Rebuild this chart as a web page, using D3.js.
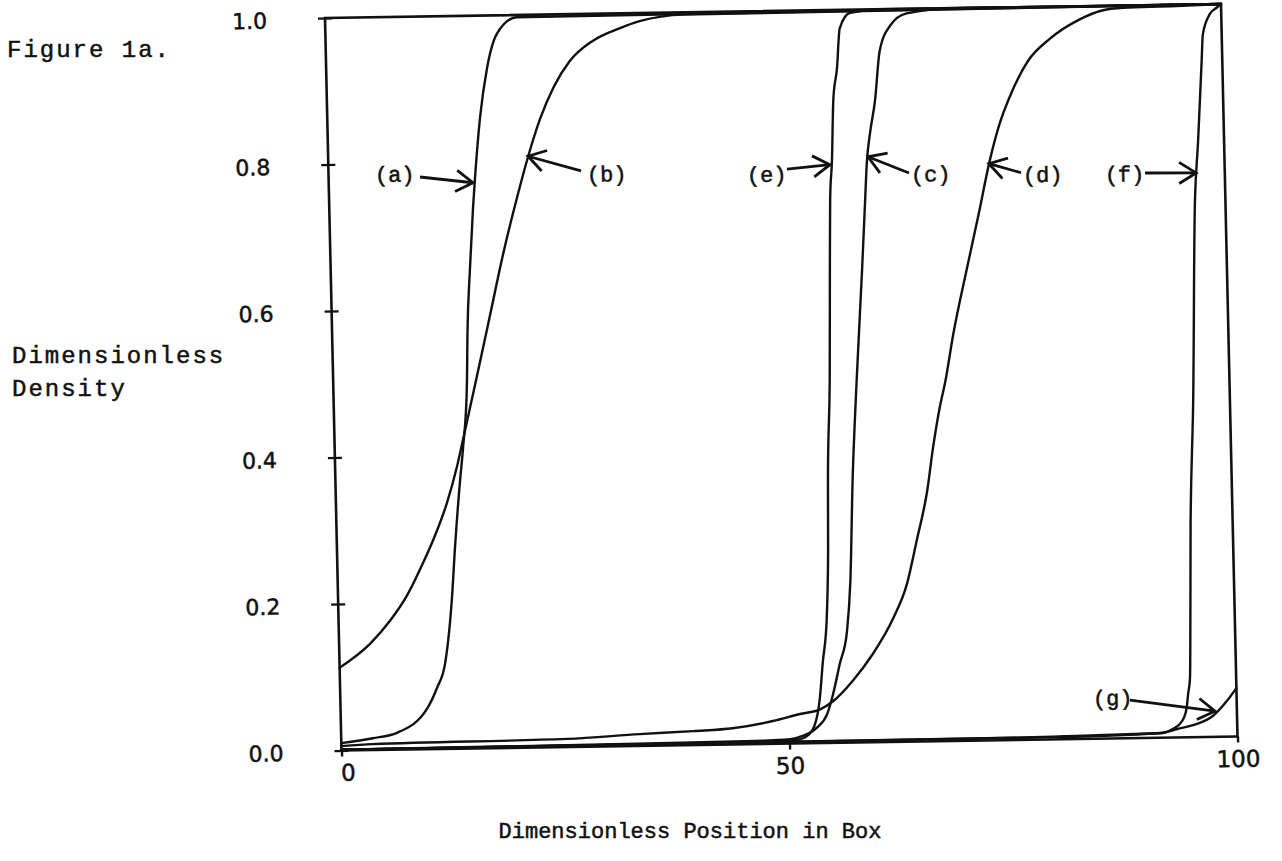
<!DOCTYPE html>
<html><head><meta charset="utf-8">
<script src="https://cdn.jsdelivr.net/npm/d3@7"></script>
<style>body{margin:0;background:#fff}svg{display:block}</style>
</head><body>
<svg id="chart" width="1282" height="861"></svg>
<script>
// ---- data ----
const xTicks = [0, 50, 100];
const yTicks = [0, 0.2, 0.4, 0.6, 0.8, 1.0];
const yTickLabels = ["0.0", "0.2", "0.4", "0.6", "0.8", "1.0"];
const xTickLabels = ["0", "50", "100"];

const curveA = [[0,0.010],[3.55,0.016],[6.24,0.023],[9.64,0.055],[10.8,0.083],[11.77,0.116],[12.71,0.206],[13.17,0.274],[13.9,0.365],[14.32,0.41],[14.93,0.502],[15.1,0.566],[15.55,0.656],[16.04,0.738],[16.33,0.778],[17.04,0.86],[17.95,0.928],[19.15,0.975],[21.4,0.997],[100,1.0]];
const curveB = [[0,0.113],[3.45,0.145],[5.74,0.176],[7.69,0.21],[9.2,0.245],[11.0,0.292],[12.4,0.336],[13.6,0.385],[14.35,0.422],[15.2,0.465],[16.05,0.508],[17.65,0.59],[19.3,0.675],[21.0,0.752],[22.3,0.806],[23.75,0.858],[25.3,0.9],[27.2,0.936],[29.8,0.963],[32.9,0.98],[35.1,0.989],[40,0.997],[100,1.0]];
const curveC = [[0,0.001],[33,0.003],[45,0.004],[50.1,0.006],[51.5,0.010],[53.1,0.021],[54.3,0.040],[55.0,0.067],[55.8,0.107],[56.7,0.152],[57.2,0.22],[57.7,0.357],[58.4,0.493],[59.3,0.647],[59.8,0.739],[60.1,0.793],[60.5,0.83],[61.15,0.875],[61.8,0.943],[63.0,0.977],[64.9,0.994],[70,1.0],[100,1.0]];
const curveD = [[0,0.006],[3.5,0.008],[25.2,0.011],[33.3,0.016],[39.3,0.019],[43.7,0.022],[48.2,0.031],[51.25,0.040],[53.5,0.046],[55.0,0.057],[57.2,0.084],[59.5,0.12],[61.9,0.169],[63.5,0.215],[64.7,0.274],[66.0,0.342],[66.75,0.40],[67.6,0.455],[68.3,0.491],[69.3,0.555],[71.0,0.645],[72.6,0.727],[73.6,0.781],[74.8,0.834],[76.5,0.886],[78.3,0.926],[80.8,0.956],[84.2,0.982],[86.5,0.993],[89.1,0.997],[95,0.998],[100,1.0]];
const curveE = [[0,0.001],[40,0.002],[50.85,0.005],[52.0,0.010],[52.9,0.026],[53.5,0.061],[53.9,0.108],[54.5,0.176],[54.8,0.266],[54.95,0.357],[55.4,0.494],[55.7,0.648],[55.9,0.74],[56.2,0.794],[56.5,0.876],[57.0,0.921],[57.4,0.975],[58.6,0.996],[62,1.0],[100,1.0]];
const curveF = [[0,0.001],[75,0.003],[88.3,0.0056],[91.7,0.0064],[92.8,0.0116],[93.85,0.022],[94.4,0.040],[94.6,0.059],[94.85,0.081],[94.95,0.118],[95.3,0.29],[95.9,0.459],[96.6,0.732],[97.1,0.8135],[97.4,0.868],[97.7,0.923],[97.9,0.959],[98.75,0.987],[99.5,0.995],[100,1.0]];
const curveG = [[0,0.001],[80,0.003],[91.4,0.0064],[93.3,0.0115],[95.5,0.018],[97.3,0.0285],[98.9,0.0486],[100,0.066]];
const curves = [curveA, curveB, curveC, curveD, curveE, curveF, curveG];

// annotation labels: text, label anchor (x,y), arrow start (x,y), arrow tip (x,y) in data units
const annoNames = ["(a)", "(b)", "(e)", "(c)", "(d)", "(f)", "(g)"];
const annoLabel = [[5.17,0.775],[28.82,0.771],[46.67,0.767],[64.97,0.764],[77.46,0.761],[86.6,0.760],[83.96,0.045]];
const annoStart = [[10.2,0.781],[28.18,0.786],[51.16,0.784],[64.77,0.776],[77.27,0.774],[91.1,0.771],[88.1,0.052]];
const annoTip   = [[16.1,0.772],[22.3,0.807],[55.97,0.789],[60.23,0.799],[73.7,0.787],[96.8,0.770],[97.55,0.035]];

const figTitle = "Figure 1a.";
const yTitle = ["Dimensionless", "Density"];
const xTitle = "Dimensionless Position in Box";

// ---- drawing ----
const W = 896, H = 732.5;
const svg = d3.select("#chart");
const ink = "#111";
const x = d3.scaleLinear().domain([0, 100]).range([0, W]);
const y = d3.scaleLinear().domain([0, 1]).range([H, 0]);

// the scanned box is slightly rotated/skewed
const g = svg.append("g").attr("transform", "matrix(1,-0.015625,0.0225,1,325,18)");

// frame
g.append("rect")
  .attr("x", x(0)).attr("y", y(1))
  .attr("width", x(100) - x(0)).attr("height", y(0) - y(1))
  .attr("fill", "none").attr("stroke", ink).attr("stroke-width", 2.6);

// left axis
const yAxis = d3.axisLeft(y).tickValues(yTicks)
  .tickFormat((d, i) => yTickLabels[i]).tickSize(7).tickPadding(51);
const ya = g.append("g").call(yAxis);
ya.select(".domain").remove();
ya.selectAll(".tick line").attr("x1", -7).attr("x2", 7).attr("stroke", ink).attr("stroke-width", 2.4);
ya.selectAll(".tick text")
  .attr("font-family", "DejaVu Sans, sans-serif").attr("font-size", 22)
  .attr("fill", ink).attr("stroke", ink).attr("stroke-width", 0.5).attr("dy", "0.42em");

// bottom axis
const xAxis = d3.axisBottom(x).tickValues(xTicks)
  .tickFormat((d, i) => xTickLabels[i]).tickSize(6).tickPadding(8);
const xa = g.append("g").attr("transform", `translate(0,${H})`).call(xAxis);
xa.select(".domain").remove();
xa.selectAll(".tick line").attr("stroke", ink).attr("stroke-width", 2.4);
xa.selectAll(".tick text")
  .attr("font-family", "DejaVu Sans, sans-serif").attr("font-size", 23)
  .attr("fill", ink).attr("stroke", ink).attr("stroke-width", 0.5)
  .attr("dx", d => d === 0 ? 6 : 0);

// curves
const line = d3.line().x(d => x(d[0])).y(d => y(d[1])).curve(d3.curveMonotoneX);
g.selectAll("path.curve").data(curves).join("path")
  .attr("class", "curve").attr("d", line)
  .attr("fill", "none").attr("stroke", ink).attr("stroke-width", 2.4)
  .attr("stroke-linejoin", "round").attr("stroke-linecap", "round");

// annotations
const mono = "Liberation Mono, DejaVu Sans Mono, monospace";
annoNames.forEach((name, i) => {
  g.append("text").attr("x", x(annoLabel[i][0])).attr("y", y(annoLabel[i][1]))
    .attr("font-family", mono).attr("font-size", 22).attr("fill", ink)
    .attr("stroke", ink).attr("stroke-width", 0.5).text(name);
  const sx = x(annoStart[i][0]), sy = y(annoStart[i][1]);
  const tx = x(annoTip[i][0]), ty = y(annoTip[i][1]);
  g.append("line").attr("x1", sx).attr("y1", sy).attr("x2", tx).attr("y2", ty)
    .attr("stroke", ink).attr("stroke-width", 2.8);
  const ang = Math.atan2(sy - ty, sx - tx);
  const L = 20, spread = 32 * Math.PI / 180;
  const p = d3.path();
  p.moveTo(tx + L * Math.cos(ang + spread), ty + L * Math.sin(ang + spread));
  p.lineTo(tx, ty);
  p.lineTo(tx + L * Math.cos(ang - spread), ty + L * Math.sin(ang - spread));
  g.append("path").attr("d", p.toString()).attr("fill", "none")
    .attr("stroke", ink).attr("stroke-width", 2.8).attr("stroke-linejoin", "miter");
});

// titles (typewritten text)
svg.append("text").attr("x", 7).attr("y", 57).attr("font-family", mono)
  .attr("font-size", 24).attr("letter-spacing", 2).attr("fill", ink)
  .attr("stroke", ink).attr("stroke-width", 0.5).text(figTitle);
yTitle.forEach((t, i) => {
  svg.append("text").attr("x", 12).attr("y", 363 + i * 33).attr("font-family", mono)
    .attr("font-size", 24).attr("letter-spacing", 2).attr("fill", ink)
    .attr("stroke", ink).attr("stroke-width", 0.5).text(t);
});
svg.append("text").attr("x", 690).attr("y", 838).attr("text-anchor", "middle")
  .attr("font-family", mono).attr("font-size", 22).attr("fill", ink)
  .attr("stroke", ink).attr("stroke-width", 0.5).text(xTitle);
</script>
</body></html>
